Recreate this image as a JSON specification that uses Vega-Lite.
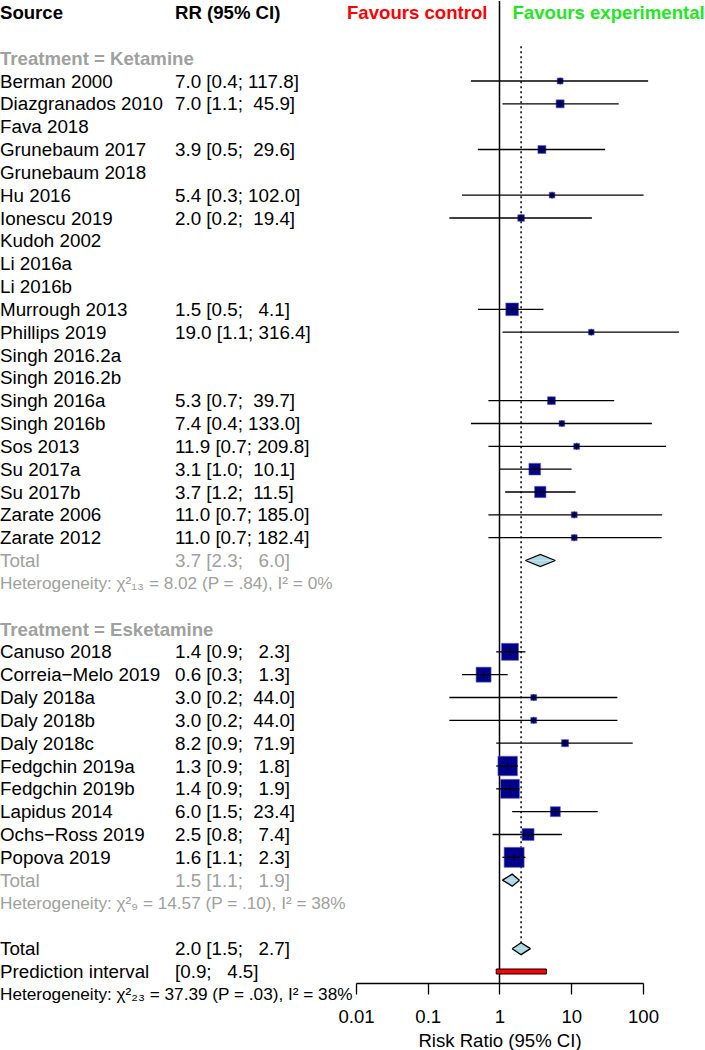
{
  "$schema": "https://vega.github.io/schema/vega-lite/v6.json",
  "padding": 0,
  "background": "white",
  "bounds": "flush",
  "spacing": 6,
  "config": {
    "font": "Liberation Sans",
    "view": {"stroke": null},
    "axis": {"grid": false}
  },
  "datasets": {
    "rows": [
      {"row": 0, "kind": "header", "source": "Source", "ci": "RR (95% CI)"},
      {"row": 2, "kind": "group", "source": "Treatment = Ketamine"},
      {"row": 3, "kind": "study", "source": "Berman 2000", "est": 7.0, "lo": 0.4, "hi": 117.8, "w": 1.2, "ci": "7.0 [0.4; 117.8]"},
      {"row": 4, "kind": "study", "source": "Diazgranados 2010", "est": 7.0, "lo": 1.1, "hi": 45.9, "w": 2.2, "ci": "7.0 [1.1;\u00a0\u00a045.9]"},
      {"row": 5, "kind": "study", "source": "Fava 2018"},
      {"row": 6, "kind": "study", "source": "Grunebaum 2017", "est": 3.9, "lo": 0.5, "hi": 29.6, "w": 2.2, "ci": "3.9 [0.5;\u00a0\u00a029.6]"},
      {"row": 7, "kind": "study", "source": "Grunebaum 2018"},
      {"row": 8, "kind": "study", "source": "Hu 2016", "est": 5.4, "lo": 0.3, "hi": 102.0, "w": 1.1, "ci": "5.4 [0.3; 102.0]"},
      {"row": 9, "kind": "study", "source": "Ionescu 2019", "est": 2.0, "lo": 0.2, "hi": 19.4, "w": 1.5, "ci": "2.0 [0.2;\u00a0\u00a019.4]"},
      {"row": 10, "kind": "study", "source": "Kudoh 2002"},
      {"row": 11, "kind": "study", "source": "Li 2016a"},
      {"row": 12, "kind": "study", "source": "Li 2016b"},
      {"row": 13, "kind": "study", "source": "Murrough 2013", "est": 1.5, "lo": 0.5, "hi": 4.1, "w": 5.5, "ci": "1.5 [0.5;\u00a0\u00a0\u00a04.1]"},
      {"row": 14, "kind": "study", "source": "Phillips 2019", "est": 19.0, "lo": 1.1, "hi": 316.4, "w": 1.1, "ci": "19.0 [1.1; 316.4]"},
      {"row": 15, "kind": "study", "source": "Singh 2016.2a"},
      {"row": 16, "kind": "study", "source": "Singh 2016.2b"},
      {"row": 17, "kind": "study", "source": "Singh 2016a", "est": 5.3, "lo": 0.7, "hi": 39.7, "w": 2.1, "ci": "5.3 [0.7;\u00a0\u00a039.7]"},
      {"row": 18, "kind": "study", "source": "Singh 2016b", "est": 7.4, "lo": 0.4, "hi": 133.0, "w": 1.1, "ci": "7.4 [0.4; 133.0]"},
      {"row": 19, "kind": "study", "source": "Sos 2013", "est": 11.9, "lo": 0.7, "hi": 209.8, "w": 1.2, "ci": "11.9 [0.7; 209.8]"},
      {"row": 20, "kind": "study", "source": "Su 2017a", "est": 3.1, "lo": 1.0, "hi": 10.1, "w": 4.7, "ci": "3.1 [1.0;\u00a0\u00a010.1]"},
      {"row": 21, "kind": "study", "source": "Su 2017b", "est": 3.7, "lo": 1.2, "hi": 11.5, "w": 4.4, "ci": "3.7 [1.2;\u00a0\u00a011.5]"},
      {"row": 22, "kind": "study", "source": "Zarate 2006", "est": 11.0, "lo": 0.7, "hi": 185.0, "w": 1.2, "ci": "11.0 [0.7; 185.0]"},
      {"row": 23, "kind": "study", "source": "Zarate 2012", "est": 11.0, "lo": 0.7, "hi": 182.4, "w": 1.2, "ci": "11.0 [0.7; 182.4]"},
      {"row": 24, "kind": "subtotal", "source": "Total", "est": 3.7, "lo": 2.3, "hi": 6.0, "ci": "3.7 [2.3;\u00a0\u00a0\u00a06.0]"},
      {"row": 25, "kind": "subhet", "source": "Heterogeneity: \u03c7\u00b2\u2081\u2083 = 8.02 (P = .84), I\u00b2 = 0%"},
      {"row": 27, "kind": "group", "source": "Treatment = Esketamine"},
      {"row": 28, "kind": "study", "source": "Canuso 2018", "est": 1.4, "lo": 0.9, "hi": 2.3, "w": 9.9, "ci": "1.4 [0.9;\u00a0\u00a0\u00a02.3]"},
      {"row": 29, "kind": "study", "source": "Correia\u2212Melo 2019", "est": 0.6, "lo": 0.3, "hi": 1.3, "w": 7.7, "ci": "0.6 [0.3;\u00a0\u00a0\u00a01.3]"},
      {"row": 30, "kind": "study", "source": "Daly 2018a", "est": 3.0, "lo": 0.2, "hi": 44.0, "w": 1.2, "ci": "3.0 [0.2;\u00a0\u00a044.0]"},
      {"row": 31, "kind": "study", "source": "Daly 2018b", "est": 3.0, "lo": 0.2, "hi": 44.0, "w": 1.2, "ci": "3.0 [0.2;\u00a0\u00a044.0]"},
      {"row": 32, "kind": "study", "source": "Daly 2018c", "est": 8.2, "lo": 0.9, "hi": 71.9, "w": 1.7, "ci": "8.2 [0.9;\u00a0\u00a071.9]"},
      {"row": 33, "kind": "study", "source": "Fedgchin 2019a", "est": 1.3, "lo": 0.9, "hi": 1.8, "w": 13.0, "ci": "1.3 [0.9;\u00a0\u00a0\u00a01.8]"},
      {"row": 34, "kind": "study", "source": "Fedgchin 2019b", "est": 1.4, "lo": 0.9, "hi": 1.9, "w": 12.3, "ci": "1.4 [0.9;\u00a0\u00a0\u00a01.9]"},
      {"row": 35, "kind": "study", "source": "Lapidus 2014", "est": 6.0, "lo": 1.5, "hi": 23.4, "w": 3.4, "ci": "6.0 [1.5;\u00a0\u00a023.4]"},
      {"row": 36, "kind": "study", "source": "Ochs\u2212Ross 2019", "est": 2.5, "lo": 0.8, "hi": 7.4, "w": 4.9, "ci": "2.5 [0.8;\u00a0\u00a0\u00a07.4]"},
      {"row": 37, "kind": "study", "source": "Popova 2019", "est": 1.6, "lo": 1.1, "hi": 2.3, "w": 13.7, "ci": "1.6 [1.1;\u00a0\u00a0\u00a02.3]"},
      {"row": 38, "kind": "subtotal", "source": "Total", "est": 1.5, "lo": 1.1, "hi": 1.9, "ci": "1.5 [1.1;\u00a0\u00a0\u00a01.9]"},
      {"row": 39, "kind": "subhet", "source": "Heterogeneity: \u03c7\u00b2\u2089 = 14.57 (P = .10), I\u00b2 = 38%"},
      {"row": 41, "kind": "overall", "source": "Total", "est": 2.0, "lo": 1.5, "hi": 2.7, "ci": "2.0 [1.5;\u00a0\u00a0\u00a02.7]"},
      {"row": 42, "kind": "predict", "source": "Prediction interval", "lo": 0.9, "hi": 4.5, "ci": "\u00a0[0.9;\u00a0\u00a0\u00a04.5]"},
      {"row": 43, "kind": "het", "source": "Heterogeneity: \u03c7\u00b2\u2082\u2083 = 37.39 (P = .03), I\u00b2 = 38%"}
    ]
  },
  "hconcat": [
    {
      "width": 350,
      "height": 1005,
      "data": {"name": "rows"},
      "transform": [
        {"fold": ["source", "ci"], "as": ["col", "text"]},
        {"filter": "isValid(datum.text) && datum.text != ''"}
      ],
      "encoding": {
        "x": {"field": "col", "type": "nominal", "bandPosition": 0, "axis": null,
              "scale": {"type": "band", "domain": ["source", "ci"], "paddingInner": 0, "paddingOuter": 0}},
        "y": {"field": "row", "type": "ordinal", "axis": null,
              "scale": {"type": "point", "domain": [0,1,2,3,4,5,6,7,8,9,10,11,12,13,14,15,16,17,18,19,20,21,22,23,24,25,26,27,28,29,30,31,32,33,34,35,36,37,38,39,40,41,42,43], "padding": 0.5036}},
        "text": {"field": "text"}
      },
      "layer": [
        {"transform": [{"filter": "datum.kind == 'header'"}],
         "mark": {"type": "text", "align": "left", "baseline": "middle", "dy": 0.5, "fontSize": 18.6, "fontWeight": "bold", "color": "black"}},
        {"transform": [{"filter": "datum.kind == 'group'"}],
         "mark": {"type": "text", "align": "left", "baseline": "middle", "dy": 0.5, "fontSize": 18.6, "fontWeight": "bold", "color": "#A0A0A0"}},
        {"transform": [{"filter": {"field": "kind", "oneOf": ["study", "overall", "predict"]}}],
         "mark": {"type": "text", "align": "left", "baseline": "middle", "dy": 0.5, "fontSize": 18.8, "color": "black"}},
        {"transform": [{"filter": "datum.kind == 'subtotal'"}],
         "mark": {"type": "text", "align": "left", "baseline": "middle", "dy": 0.5, "fontSize": 18.8, "color": "#A0A0A0"}},
        {"transform": [{"filter": "datum.kind == 'subhet'"}],
         "mark": {"type": "text", "align": "left", "baseline": "middle", "dy": 0.5, "fontSize": 17.2, "color": "#A0A0A0"}},
        {"transform": [{"filter": "datum.kind == 'het'"}],
         "mark": {"type": "text", "align": "left", "baseline": "middle", "dy": 0.5, "fontSize": 17.2, "color": "black"}}
      ]
    },
    {
      "width": 287,
      "height": 982,
      "layer": [
        {
          "data": {"values": [{}]},
          "mark": {"type": "rule", "color": "black", "strokeWidth": 1.5},
          "encoding": {
            "x": {"datum": 1, "type": "quantitative",
                  "scale": {"type": "log", "domain": [0.01, 100], "nice": false},
                  "axis": {"values": [0.01, 0.1, 1, 10, 100], "format": "~g", "title": "Risk Ratio (95% CI)",
                           "domainColor": "black", "domainWidth": 1.3, "tickColor": "black", "tickWidth": 1.3, "tickSize": 11,
                           "labelFontSize": 18.6, "labelColor": "black", "labelPadding": 13, "labelFont": "Liberation Sans",
                           "labelFlush": false, "labelOverlap": false,
                           "titleFont": "Liberation Sans", "titleFontSize": 18.6, "titleFontWeight": "normal", "titleColor": "black", "titlePadding": 6}}
          }
        },
        {
          "data": {"name": "rows"},
          "transform": [{"filter": "datum.kind == 'overall'"}],
          "mark": {"type": "rule", "color": "black", "strokeWidth": 1.5, "strokeDash": [2, 3], "yOffset": -12, "y2Offset": -6},
          "encoding": {
            "x": {"field": "est", "type": "quantitative",
                  "scale": {"type": "log", "domain": [0.01, 100], "nice": false},
                  "axis": {"values": [0.01, 0.1, 1, 10, 100], "format": "~g", "title": "Risk Ratio (95% CI)",
                           "domainColor": "black", "domainWidth": 1.3, "tickColor": "black", "tickWidth": 1.3, "tickSize": 11,
                           "labelFontSize": 18.6, "labelColor": "black", "labelPadding": 13, "labelFont": "Liberation Sans",
                           "labelFlush": false, "labelOverlap": false,
                           "titleFont": "Liberation Sans", "titleFontSize": 18.6, "titleFontWeight": "normal", "titleColor": "black", "titlePadding": 6}},
            "y": {"datum": 2, "type": "ordinal", "axis": null,
                  "scale": {"type": "point", "domain": [0,1,2,3,4,5,6,7,8,9,10,11,12,13,14,15,16,17,18,19,20,21,22,23,24,25,26,27,28,29,30,31,32,33,34,35,36,37,38,39,40,41,42], "padding": 0.5036}},
            "y2": {"datum": 41}
          }
        },
        {
          "data": {"name": "rows"},
          "transform": [{"filter": "datum.kind == 'study' && isValid(datum.est)"}],
          "mark": {"type": "square", "filled": true, "color": "#00008B", "stroke": "#5F5FB5", "strokeWidth": 0.6, "opacity": 1},
          "encoding": {
            "x": {"field": "est", "type": "quantitative",
                  "scale": {"type": "log", "domain": [0.01, 100], "nice": false},
                  "axis": {"values": [0.01, 0.1, 1, 10, 100], "format": "~g", "title": "Risk Ratio (95% CI)",
                           "domainColor": "black", "domainWidth": 1.3, "tickColor": "black", "tickWidth": 1.3, "tickSize": 11,
                           "labelFontSize": 18.6, "labelColor": "black", "labelPadding": 13, "labelFont": "Liberation Sans",
                           "labelFlush": false, "labelOverlap": false,
                           "titleFont": "Liberation Sans", "titleFontSize": 18.6, "titleFontWeight": "normal", "titleColor": "black", "titlePadding": 6}},
            "y": {"field": "row", "type": "ordinal", "axis": null},
            "size": {"field": "w", "type": "quantitative", "legend": null,
                     "scale": {"type": "linear", "domain": [0, 14], "range": [0, 409], "zero": true}}
          }
        },
        {
          "data": {"name": "rows"},
          "transform": [{"filter": "datum.kind == 'study' && isValid(datum.est)"}],
          "mark": {"type": "rule", "color": "black", "strokeWidth": 1.3},
          "encoding": {
            "x": {"field": "lo", "type": "quantitative",
                  "scale": {"type": "log", "domain": [0.01, 100], "nice": false},
                  "axis": {"values": [0.01, 0.1, 1, 10, 100], "format": "~g", "title": "Risk Ratio (95% CI)",
                           "domainColor": "black", "domainWidth": 1.3, "tickColor": "black", "tickWidth": 1.3, "tickSize": 11,
                           "labelFontSize": 18.6, "labelColor": "black", "labelPadding": 13, "labelFont": "Liberation Sans",
                           "labelFlush": false, "labelOverlap": false,
                           "titleFont": "Liberation Sans", "titleFontSize": 18.6, "titleFontWeight": "normal", "titleColor": "black", "titlePadding": 6}},
            "x2": {"field": "hi"},
            "y": {"field": "row", "type": "ordinal", "axis": null}
          }
        },
        {
          "data": {"name": "rows"},
          "transform": [{"filter": "datum.kind == 'study' && isValid(datum.est)"}],
          "mark": {"type": "tick", "orient": "vertical", "size": 7, "thickness": 1, "color": "black"},
          "encoding": {
            "x": {"field": "est", "type": "quantitative",
                  "scale": {"type": "log", "domain": [0.01, 100], "nice": false},
                  "axis": {"values": [0.01, 0.1, 1, 10, 100], "format": "~g", "title": "Risk Ratio (95% CI)",
                           "domainColor": "black", "domainWidth": 1.3, "tickColor": "black", "tickWidth": 1.3, "tickSize": 11,
                           "labelFontSize": 18.6, "labelColor": "black", "labelPadding": 13, "labelFont": "Liberation Sans",
                           "labelFlush": false, "labelOverlap": false,
                           "titleFont": "Liberation Sans", "titleFontSize": 18.6, "titleFontWeight": "normal", "titleColor": "black", "titlePadding": 6}},
            "y": {"field": "row", "type": "ordinal", "axis": null}
          }
        },
        {
          "data": {"name": "rows"},
          "transform": [
            {"filter": "datum.kind == 'subtotal' || datum.kind == 'overall'"},
            {"fold": ["lo", "est", "hi"], "as": ["pt", "val"]},
            {"lookup": "pt", "from": {"data": {"values": [{"pt": "lo", "up": 0, "dn": 0}, {"pt": "est", "up": 1, "dn": -1}, {"pt": "hi", "up": 0, "dn": 0}]}, "key": "pt", "fields": ["up", "dn"]}}
          ],
          "layer": [
            {
              "mark": {"type": "line", "fill": "#ADD8E6", "stroke": "black", "strokeWidth": 1.3},
              "encoding": {
                "x": {"field": "val", "type": "quantitative",
                      "scale": {"type": "log", "domain": [0.01, 100], "nice": false},
                      "axis": {"values": [0.01, 0.1, 1, 10, 100], "format": "~g", "title": "Risk Ratio (95% CI)",
                               "domainColor": "black", "domainWidth": 1.3, "tickColor": "black", "tickWidth": 1.3, "tickSize": 11,
                               "labelFontSize": 18.6, "labelColor": "black", "labelPadding": 13, "labelFont": "Liberation Sans",
                               "labelFlush": false, "labelOverlap": false,
                               "titleFont": "Liberation Sans", "titleFontSize": 18.6, "titleFontWeight": "normal", "titleColor": "black", "titlePadding": 6}},
                "y": {"field": "row", "type": "ordinal", "axis": null},
                "yOffset": {"field": "up", "type": "quantitative", "scale": {"domain": [-1, 1], "range": [6, -6]}},
                "detail": {"field": "row", "type": "nominal"},
                "order": {"field": "val", "type": "quantitative"}
              }
            },
            {
              "mark": {"type": "line", "fill": "#ADD8E6", "stroke": "black", "strokeWidth": 1.3},
              "encoding": {
                "x": {"field": "val", "type": "quantitative",
                      "scale": {"type": "log", "domain": [0.01, 100], "nice": false},
                      "axis": {"values": [0.01, 0.1, 1, 10, 100], "format": "~g", "title": "Risk Ratio (95% CI)",
                               "domainColor": "black", "domainWidth": 1.3, "tickColor": "black", "tickWidth": 1.3, "tickSize": 11,
                               "labelFontSize": 18.6, "labelColor": "black", "labelPadding": 13, "labelFont": "Liberation Sans",
                               "labelFlush": false, "labelOverlap": false,
                               "titleFont": "Liberation Sans", "titleFontSize": 18.6, "titleFontWeight": "normal", "titleColor": "black", "titlePadding": 6}},
                "y": {"field": "row", "type": "ordinal", "axis": null},
                "yOffset": {"field": "dn", "type": "quantitative", "scale": {"domain": [-1, 1], "range": [6, -6]}},
                "detail": {"field": "row", "type": "nominal"},
                "order": {"field": "val", "type": "quantitative"}
              }
            }
          ]
        },
        {
          "data": {"name": "rows"},
          "transform": [{"filter": "datum.kind == 'predict'"}],
          "mark": {"type": "bar", "orient": "horizontal", "height": 5, "fill": "red", "stroke": "black", "strokeWidth": 1},
          "encoding": {
            "x": {"field": "lo", "type": "quantitative",
                  "scale": {"type": "log", "domain": [0.01, 100], "nice": false},
                  "axis": {"values": [0.01, 0.1, 1, 10, 100], "format": "~g", "title": "Risk Ratio (95% CI)",
                           "domainColor": "black", "domainWidth": 1.3, "tickColor": "black", "tickWidth": 1.3, "tickSize": 11,
                           "labelFontSize": 18.6, "labelColor": "black", "labelPadding": 13, "labelFont": "Liberation Sans",
                           "labelFlush": false, "labelOverlap": false,
                           "titleFont": "Liberation Sans", "titleFontSize": 18.6, "titleFontWeight": "normal", "titleColor": "black", "titlePadding": 6}},
            "x2": {"field": "hi"},
            "y": {"field": "row", "type": "ordinal", "axis": null}
          }
        },
        {
          "data": {"values": [{"lab": "Favours control"}]},
          "mark": {"type": "text", "align": "right", "baseline": "middle", "dx": -12, "dy": 0.5, "fontSize": 18.6, "fontWeight": "bold", "color": "#FF0000"},
          "encoding": {
            "x": {"datum": 1, "type": "quantitative",
                  "scale": {"type": "log", "domain": [0.01, 100], "nice": false},
                  "axis": {"values": [0.01, 0.1, 1, 10, 100], "format": "~g", "title": "Risk Ratio (95% CI)",
                           "domainColor": "black", "domainWidth": 1.3, "tickColor": "black", "tickWidth": 1.3, "tickSize": 11,
                           "labelFontSize": 18.6, "labelColor": "black", "labelPadding": 13, "labelFont": "Liberation Sans",
                           "labelFlush": false, "labelOverlap": false,
                           "titleFont": "Liberation Sans", "titleFontSize": 18.6, "titleFontWeight": "normal", "titleColor": "black", "titlePadding": 6}},
            "y": {"datum": 0, "type": "ordinal", "axis": null},
            "text": {"field": "lab"}
          }
        },
        {
          "data": {"values": [{"lab": "Favours experimental"}]},
          "mark": {"type": "text", "align": "left", "baseline": "middle", "dx": 13, "dy": 0.5, "fontSize": 18.6, "fontWeight": "bold", "color": "#22E622"},
          "encoding": {
            "x": {"datum": 1, "type": "quantitative",
                  "scale": {"type": "log", "domain": [0.01, 100], "nice": false},
                  "axis": {"values": [0.01, 0.1, 1, 10, 100], "format": "~g", "title": "Risk Ratio (95% CI)",
                           "domainColor": "black", "domainWidth": 1.3, "tickColor": "black", "tickWidth": 1.3, "tickSize": 11,
                           "labelFontSize": 18.6, "labelColor": "black", "labelPadding": 13, "labelFont": "Liberation Sans",
                           "labelFlush": false, "labelOverlap": false,
                           "titleFont": "Liberation Sans", "titleFontSize": 18.6, "titleFontWeight": "normal", "titleColor": "black", "titlePadding": 6}},
            "y": {"datum": 0, "type": "ordinal", "axis": null},
            "text": {"field": "lab"}
          }
        }
      ]
    }
  ]
}
